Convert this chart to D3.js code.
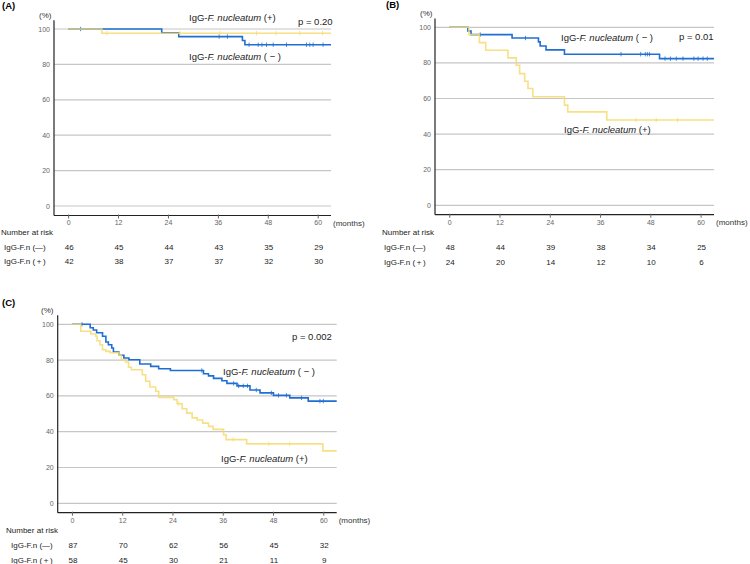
<!DOCTYPE html>
<html>
<head>
<meta charset="utf-8">
<script src="https://cdn.jsdelivr.net/npm/d3@7"></script>
<style>
  body { margin: 0; background: #fff; }
  svg { font-family: "Liberation Sans", Arial, sans-serif; }
</style>
</head>
<body>
<svg width="750" height="564"></svg>
<script>
var monthTicks = [0, 12, 24, 36, 48, 60];
var pctTicks = [0, 20, 40, 60, 80, 100];

// panel A
var aNegT = [0, 22.5, 26.6, 41.9, 42.5];
var aNegS = [100, 97.8, 95.7, 93.5, 91.1];
var aNegC = [3.0, 36.3, 38.3, 43.5, 45.7, 46.6, 47.7, 49.3, 52.5, 57.3, 58.1, 58.9, 61.3];
var aPosT = [0, 8.1];
var aPosS = [100, 97.6];
var aPosC = [9.3, 26.9, 36.5, 45.3, 50.0, 55.7, 61.2];
var aRiskNeg = [46, 45, 44, 43, 35, 29];
var aRiskPos = [42, 38, 37, 37, 32, 30];

// panel B
var bNegT = [0, 4.45, 5.2, 15.0, 21.3, 21.7, 23.1, 27.5, 50.2];
var bNegS = [100, 97.9, 95.9, 94.0, 91.8, 89.5, 87.3, 84.9, 82.4];
var bNegC = [7.4, 18.2, 41.0, 45.7, 46.8, 47.3, 47.8, 51.5, 52.8, 54.2, 55.8, 58.4, 59.4, 60.6, 61.6];
var bPosT = [0, 4.7, 7.2, 8.7, 14.0, 16.0, 16.8, 18.0, 18.8, 19.95, 27.5, 28.3, 37.6];
var bPosS = [100, 95.9, 91.4, 87.1, 82.8, 78.7, 74.0, 69.7, 65.6, 61.0, 56.3, 52.5, 47.9];
var bPosC = [44.6, 49.4, 54.5];
var bRiskNeg = [48, 44, 39, 38, 34, 25];
var bRiskPos = [24, 20, 14, 12, 10, 6];

// panel C
var cNegT = [0, 4.35, 5.1, 5.9, 7.3, 8.1, 8.7, 9.5, 9.9, 11.2, 12.4, 13.6, 16.2, 18.8, 20.7, 23.5,
             31.4, 32.6, 33.8, 35.8, 37.0, 39.4, 42.5, 44.9, 48.1, 52.0, 56.4];
var cNegS = [100, 98.1, 96.8, 95.3, 93.3, 90.1, 88.6, 86.8, 84.5, 82.7, 81.2, 80.2, 77.8, 76.5, 75.2, 74.2,
             72.4, 71.2, 69.8, 68.5, 67.0, 65.6, 63.3, 61.7, 60.3, 58.9, 57.1];
var cNegC = [2.4, 31.0, 38.6, 39.8, 40.9, 41.9, 44.0, 47.6, 49.3, 51.2, 54.8, 59.2, 60.0];
var cPosT = [0, 2.1, 4.5, 5.7, 6.0, 6.7, 7.3, 8.1, 9.1, 11.2, 11.8, 12.8, 13.5, 14.2, 16.8, 17.6, 18.6, 20.0,
             20.7, 24.3, 25.1, 26.3, 27.4, 28.7, 29.9, 31.2, 32.6, 33.7, 36.2, 36.8, 41.7, 59.9];
var cPosS = [100, 96.1, 94.6, 93.3, 90.8, 88.6, 85.8, 84.9, 84.1, 82.7, 80.2, 78.9, 76.0, 74.6, 71.8, 68.2, 65.0, 62.6,
             59.2, 57.9, 55.6, 52.8, 50.4, 47.7, 46.5, 44.8, 43.0, 41.3, 38.3, 35.6, 33.2, 29.3];
var cPosC = [25.5, 38.5, 47.0, 52.0];
var cRiskNeg = [87, 70, 62, 56, 45, 32];
var cRiskPos = [58, 45, 30, 21, 11, 9];

var blue = "#1f6fd3", yellow = "#f6db6e", grid = "#c6c6c6", tickCol = "#666";
var negLabel = "IgG-F.n (\u2014)", posLabel = "IgG-F.n (\uff0b)";

var svg = d3.select("svg");

function zip(t, s) { return t.map(function(d, i) { return [d, s[i]]; }); }
function survAt(t, s, m) {
  var v = s[0];
  for (var i = 0; i < t.length; i++) if (t[i] <= m) v = s[i];
  return v;
}

function drawPanel(p) {
  var x = d3.scaleLinear().domain([-3.4, 63.2]).range([p.left, p.right]);
  var y = d3.scaleLinear().domain([0, 100]).range([p.y0, p.y100]);
  var yBottom = p.axisY, yTop = y(105);
  var g = svg.append("g");

  // grid
  g.selectAll(".grid").data(pctTicks).enter().append("line")
    .attr("x1", p.left).attr("x2", p.right)
    .attr("y1", function(d) { return y(d); }).attr("y2", function(d) { return y(d); })
    .attr("stroke", grid).attr("stroke-width", 1.2);

  // y labels
  g.selectAll(".yl").data(pctTicks).enter().append("text")
    .attr("x", p.left - 4).attr("y", function(d) { return y(d) + 2.5; })
    .attr("text-anchor", "end").attr("font-size", 7).attr("fill", tickCol)
    .text(function(d) { return d; });

  // axes
  g.append("line").attr("x1", p.left).attr("x2", p.left).attr("y1", yTop).attr("y2", yBottom)
    .attr("stroke", "#222").attr("stroke-width", 1.2);
  var xa = g.append("g").attr("transform", "translate(0," + yBottom + ")")
    .call(d3.axisBottom(x).tickValues(monthTicks).tickSize(3).tickSizeOuter(0).tickPadding(2));
  xa.select(".domain").attr("stroke", "#222").attr("stroke-width", 1.2)
    .attr("d", "M" + p.left + ",0H" + p.right);
  xa.selectAll(".tick line").attr("stroke", tickCol).attr("y1", -1);
  xa.selectAll(".tick text").attr("font-size", 7).attr("fill", tickCol)
    .attr("font-family", "Liberation Sans, Arial, sans-serif");
  g.append("text").attr("x", p.right + 2).attr("y", yBottom + 10.5)
    .attr("font-size", 8).attr("fill", "#333").text("(months)");

  g.append("text").attr("x", p.pctX).attr("y", y(100) - 11).attr("font-size", 8)
    .attr("fill", "#333").text("(%)");
  g.append("text").attr("x", p.tagX).attr("y", p.tagY).attr("font-size", 9.5)
    .attr("font-weight", "bold").text(p.tag);

  var line = d3.line().curve(d3.curveStepAfter)
    .x(function(d) { return x(d[0]); }).y(function(d) { return y(d[1]); });

  var series = [
    {t: p.negT, s: p.negS, c: p.negC, col: blue, op: 1},
    {t: p.posT, s: p.posS, c: p.posC, col: yellow, op: 0.85}
  ];
  series.forEach(function(sr) {
    var pts = zip(sr.t, sr.s);
    pts.push([63.2, sr.s[sr.s.length - 1]]);
    g.append("path").datum(pts).attr("d", line).attr("fill", "none")
      .attr("stroke", sr.col).attr("stroke-width", 1.6).attr("stroke-opacity", sr.op);
    g.selectAll(null).data(sr.c).enter().append("line")
      .attr("x1", function(d) { return x(d); }).attr("x2", function(d) { return x(d); })
      .attr("y1", function(d) { return y(survAt(sr.t, sr.s, d)) - 2.2; })
      .attr("y2", function(d) { return y(survAt(sr.t, sr.s, d)) + 2.2; })
      .attr("stroke", sr.col).attr("stroke-width", 1).attr("stroke-opacity", 0.8);
  });

  // annotations
  p.notes.forEach(function(n) {
    var t = g.append("text").attr("x", n[0]).attr("y", n[1]).attr("font-size", 9.5).attr("fill", "#222");
    if (n[2] === "p") { t.text(n[3]); return; }
    t.append("tspan").text("IgG-");
    t.append("tspan").attr("font-style", "italic").text("F. nucleatum");
    t.append("tspan").text(n[2] === "neg" ? " ( \u2212 )" : " (+)");
  });

  // risk table
  g.append("text").attr("x", p.riskX).attr("y", p.riskY).attr("font-size", 8).attr("fill", "#222")
    .text("Number at risk");
  [[negLabel, p.riskNeg], [posLabel, p.riskPos]].forEach(function(r, i) {
    var ry = p.riskY + 15 + i * p.rowGap;
    g.append("text").attr("x", p.rowX).attr("y", ry).attr("font-size", 8).attr("fill", "#222").text(r[0]);
    g.selectAll(null).data(r[1]).enter().append("text")
      .attr("x", function(d, j) { return x(monthTicks[j]) + 1; }).attr("y", ry)
      .attr("text-anchor", "middle").attr("font-size", 8).attr("fill", "#222")
      .text(function(d) { return d; });
  });
}

drawPanel({tag: "(A)", tagX: 2, tagY: 9, pctX: 39, left: 54, right: 331, y0: 206, y100: 29, axisY: 215.5,
  negT: aNegT, negS: aNegS, negC: aNegC, posT: aPosT, posS: aPosS, posC: aPosC,
  riskNeg: aRiskNeg, riskPos: aRiskPos, riskX: 1, riskY: 235, rowX: 4, rowGap: 14,
  notes: [[189, 20.5, "pos"], [298, 24.5, "p", "p = 0.20"], [189, 59.5, "neg"]]});

drawPanel({tag: "(B)", tagX: 386, tagY: 8, pctX: 420, left: 435, right: 714, y0: 205.3, y100: 27.3, axisY: 214.7,
  negT: bNegT, negS: bNegS, negC: bNegC, posT: bPosT, posS: bPosS, posC: bPosC,
  riskNeg: bRiskNeg, riskPos: bRiskPos, riskX: 382, riskY: 235, rowX: 384, rowGap: 14.5,
  notes: [[561, 41, "neg"], [679, 40, "p", "p = 0.01"], [564, 132.5, "pos"]]});

drawPanel({tag: "(C)", tagX: 2, tagY: 306, pctX: 41, left: 57.7, right: 336.7, y0: 503.3, y100: 324.3, axisY: 512.7,
  negT: cNegT, negS: cNegS, negC: cNegC, posT: cPosT, posS: cPosS, posC: cPosC,
  riskNeg: cRiskNeg, riskPos: cRiskPos, riskX: 6, riskY: 533, rowX: 11, rowGap: 15,
  notes: [[292, 339.5, "p", "p = 0.002"], [223, 375, "neg"], [221, 461.5, "pos"]]});
</script>
</body>
</html>
